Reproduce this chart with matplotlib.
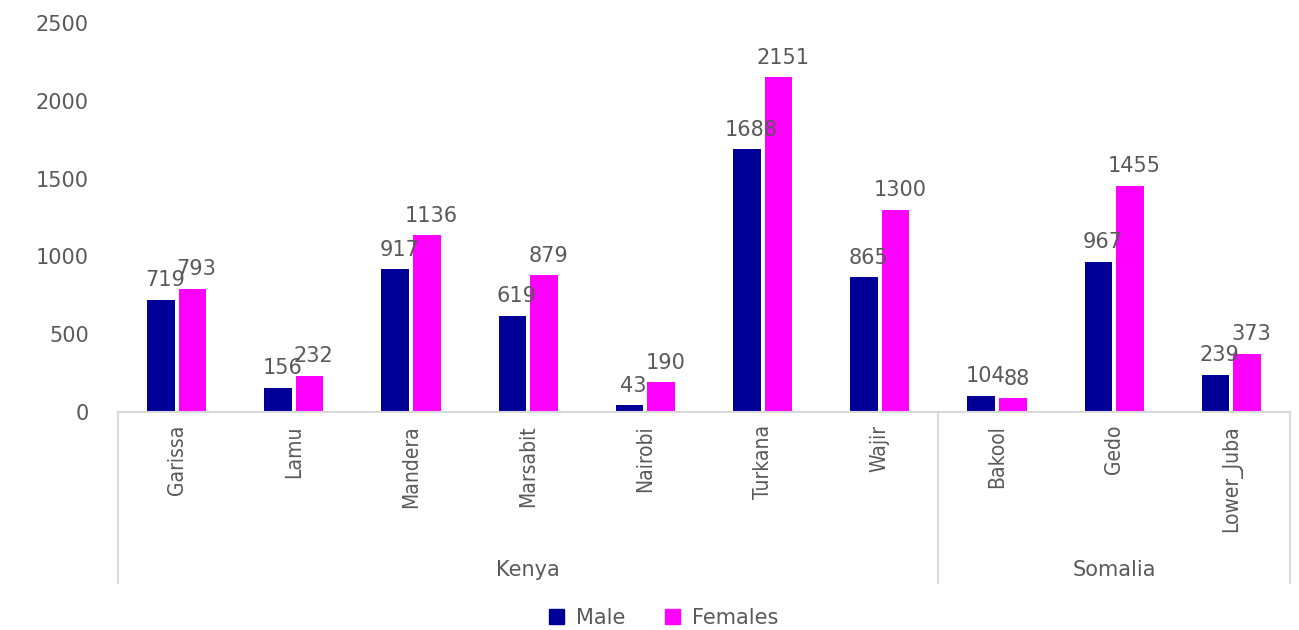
import matplotlib
matplotlib.use("Agg")
import matplotlib.pyplot as plt
from matplotlib.patches import Patch
from matplotlib.lines import Line2D

districts = ["Garissa", "Lamu", "Mandera", "Marsabit", "Nairobi", "Turkana", "Wajir",
             "Bakool", "Gedo", "Lower_Juba"]
countries = ["Kenya", "Somalia"]
country_counts = [7, 3]
male = [719, 156, 917, 619, 43, 1688, 865, 104, 967, 239]
females = [793, 232, 1136, 879, 190, 2151, 1300, 88, 1455, 373]
yticks = [0, 500, 1000, 1500, 2000, 2500]

MALE_C = "#000099"
FEM_C = "#FF00FF"
TXT = "#595959"
LINE = "#D9D9D9"

fig = plt.figure(figsize=(12.99, 6.30), dpi=100)
ax = fig.add_axes([118/1299, 218/630, (1290-118)/1299, (412-23)/630])

x = list(range(len(districts)))
w = 0.235
off = 0.135
bm = ax.bar([i - off for i in x], male, width=w, color=MALE_C, zorder=2)
bf = ax.bar([i + off for i in x], females, width=w, color=FEM_C, zorder=2)

for rect, v in zip(bm, male):
    ax.annotate(str(v), (rect.get_x() + rect.get_width()/2, v), xytext=(3, 7),
                textcoords="offset points", ha="center", va="bottom",
                fontsize=15, color=TXT)
for rect, v in zip(bf, females):
    ax.annotate(str(v), (rect.get_x() + rect.get_width()/2, v), xytext=(3, 7),
                textcoords="offset points", ha="center", va="bottom",
                fontsize=15, color=TXT)

ax.set_xlim(-0.5, len(districts) - 0.5)
ax.set_ylim(0, 2500)
ax.set_yticks(yticks)
ax.set_yticklabels([str(t) for t in yticks], fontsize=15, color=TXT)
ax.tick_params(axis="y", length=0, pad=21)
ax.set_xticks([])
for s in ["left", "right", "top"]:
    ax.spines[s].set_visible(False)
ax.spines["bottom"].set_color(LINE)
ax.spines["bottom"].set_linewidth(1.5)

# multi-level category axis
trans = ax.get_xaxis_transform()
y_bottom_line = -(583 - 412) / (412 - 23)
ax.add_line(Line2D([-0.5, -0.5], [0, y_bottom_line], transform=trans, color=LINE,
                   lw=1.5, clip_on=False))
start = -0.5
for c, n in zip(countries, country_counts):
    end = start + n
    ax.add_line(Line2D([end, end], [0, y_bottom_line], transform=trans, color=LINE,
                       lw=1.5, clip_on=False))
    ax.text((start + end) / 2, -(570 - 412) / (412 - 23), c, transform=trans,
            ha="center", va="center", fontsize=15, color=TXT)
    start = end

for i, d in enumerate(districts):
    ax.text(i, -(425 - 412) / (412 - 23), d, transform=trans, rotation=90,
            ha="center", va="top", fontsize=15, color=TXT,
            family="DejaVu Sans", fontstretch="condensed")

handles = [Patch(color=MALE_C, label="Male"), Patch(color=FEM_C, label="Females")]
fig.legend(handles=handles, loc="center", bbox_to_anchor=(664/1299, 1 - 618/630),
           ncol=2, frameon=False, fontsize=15, handlelength=0.7, handleheight=0.7,
           labelcolor=TXT, columnspacing=1.9, handletextpad=0.6)

fig.savefig("out.png", dpi=100, facecolor="white")
